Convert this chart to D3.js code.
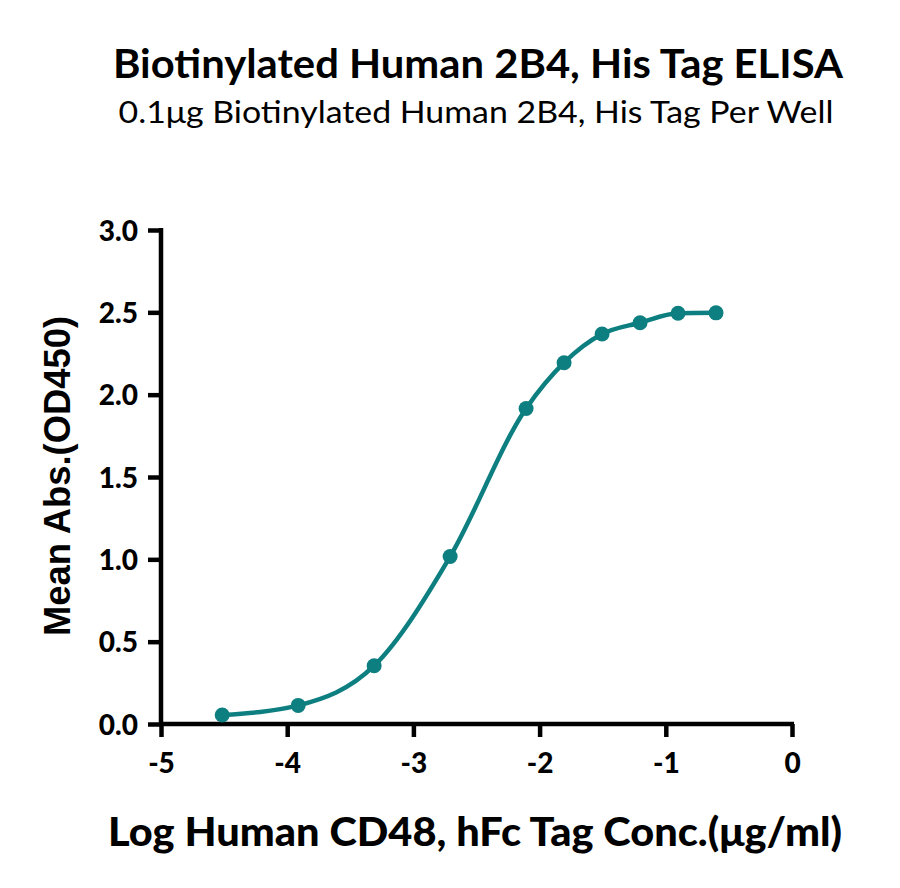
<!DOCTYPE html>
<html>
<head>
<meta charset="utf-8">
<script src="https://cdn.jsdelivr.net/npm/d3@7"></script>
<style>
  html, body { margin: 0; padding: 0; background: #fff; }
  svg { display: block; }
</style>
</head>
<body>
<svg id="chart"></svg>
<script>
// data
const logConc = [-4.515, -3.913, -3.311, -2.709, -2.107, -1.806, -1.505, -1.204, -0.903, -0.602];
const meanAbs = [0.055, 0.113, 0.354, 1.017, 1.916, 2.194, 2.368, 2.437, 2.494, 2.497];
const xTicks = [-5, -4, -3, -2, -1, 0];
const yTicks = [0, 0.5, 1.0, 1.5, 2.0, 2.5, 3.0];

const titleText = "Biotinylated Human 2B4, His Tag ELISA";
const subtitleText = "0.1\u03bcg Biotinylated Human 2B4, His Tag Per Well";
const xLabel = "Log Human CD48, hFc Tag Conc.(\u03bcg/ml)";
const yLabel = "Mean Abs.(OD450)";

const width = 900;
const height = 888;
const plot = { left: 161, right: 792, top: 230, bottom: 724 };
const teal = "#0e7f80";
const sans = "'Source Sans Pro', Lato, 'Open Sans', sans-serif";

const svg = d3.select("#chart").attr("width", width).attr("height", height);

const x = d3.scaleLinear().domain([-5, 0]).range([plot.left, plot.right]);
const y = d3.scaleLinear().domain([0, 3]).range([plot.bottom, plot.top]);

// titles
svg.append("text")
    .attr("x", 478).attr("y", 78)
    .attr("text-anchor", "middle")
    .attr("font-family", sans).attr("font-weight", 700).attr("font-size", 41)
    .attr("textLength", 730).attr("lengthAdjust", "spacingAndGlyphs")
    .text(titleText);

svg.append("text")
    .attr("x", 476).attr("y", 123)
    .attr("text-anchor", "middle")
    .attr("font-family", sans).attr("font-weight", 400).attr("font-size", 30)
    .attr("textLength", 715).attr("lengthAdjust", "spacingAndGlyphs")
    .text(subtitleText);

// axes (plain hyphen for negatives, as in the reference)
const xAxis = d3.axisBottom(x).tickValues(xTicks).tickSize(13).tickPadding(14).tickFormat(d => String(d));
const yAxis = d3.axisLeft(y).tickValues(yTicks).tickSize(13).tickPadding(10).tickFormat(d3.format(".1f"));

const gx = svg.append("g")
    .attr("transform", `translate(0, ${plot.bottom})`)
    .call(xAxis);

const gy = svg.append("g")
    .attr("transform", `translate(${plot.left}, 0)`)
    .call(yAxis);

[gx, gy].forEach(g => {
    g.select(".domain").attr("stroke", "#000").attr("stroke-width", 4.5);
    g.selectAll(".tick line").attr("stroke", "#000").attr("stroke-width", 4.5);
    g.selectAll(".tick text")
        .attr("fill", "#000")
        .attr("font-family", sans)
        .attr("font-weight", 900)
        .attr("font-size", 28);
});
// flat domain ends, no outer tick stubs
gx.select(".domain").attr("d", `M${plot.left - 2},0H${plot.right + 2}`);
gy.select(".domain").attr("d", `M0,${plot.bottom + 2}V${plot.top - 2}`);
gx.selectAll(".tick text").attr("dy", "0.8em");
gy.selectAll(".tick text").attr("dy", "0.36em");

// axis labels
svg.append("text")
    .attr("x", 475).attr("y", 846)
    .attr("text-anchor", "middle")
    .attr("font-family", sans).attr("font-weight", 900).attr("font-size", 39)
    .attr("textLength", 734).attr("lengthAdjust", "spacingAndGlyphs")
    .text(xLabel);

svg.append("text")
    .attr("transform", "translate(70, 476) rotate(-90)")
    .attr("text-anchor", "middle")
    .attr("font-family", "'Liberation Sans', Arial, sans-serif").attr("font-weight", 700).attr("font-size", 36)
    .attr("textLength", 320).attr("lengthAdjust", "spacingAndGlyphs")
    .text(yLabel);

// fitted curve and points
const points = logConc.map((c, i) => ({ c, v: meanAbs[i] }));

const line = d3.line()
    .x(d => x(d.c))
    .y(d => y(d.v))
    .curve(d3.curveMonotoneX);

svg.append("path")
    .datum(points)
    .attr("fill", "none")
    .attr("stroke", teal)
    .attr("stroke-width", 4.5)
    .attr("d", line);

svg.append("g")
    .selectAll("circle")
    .data(points)
    .join("circle")
    .attr("cx", d => x(d.c))
    .attr("cy", d => y(d.v))
    .attr("r", 7.5)
    .attr("fill", teal);
</script>
</body>
</html>
